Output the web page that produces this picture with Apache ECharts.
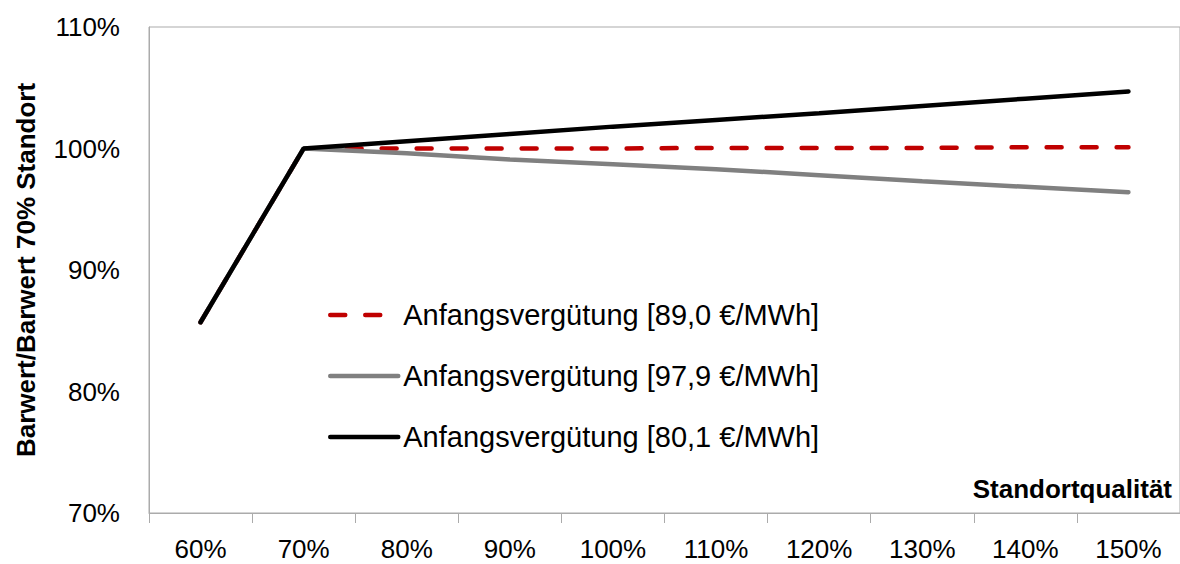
<!DOCTYPE html>
<html>
<head>
<meta charset="utf-8">
<script src="https://cdn.jsdelivr.net/npm/echarts@6/dist/echarts.min.js"></script>
<style>
html,body{margin:0;padding:0;overflow:hidden;background:#fff;}
#chart{width:1180px;height:564px;}
</style>
</head>
<body>
<div id="chart"></div>
<script>
const categories = ['60%','70%','80%','90%','100%','110%','120%','130%','140%','150%'];
const seriesNames = ['Anfangsvergütung [89,0 €/MWh]','Anfangsvergütung [97,9 €/MWh]','Anfangsvergütung [80,1 €/MWh]'];
const red89 = [85.7, 100, 100, 100, 100, 100.05, 100.05, 100.05, 100.1, 100.1];
const gray979 = [85.7, 100, 99.6, 99.1, 98.7, 98.3, 97.8, 97.3, 96.85, 96.4];
const black801 = [85.7, 100, 100.6, 101.2, 101.8, 102.35, 102.9, 103.5, 104.1, 104.7];
const yTicks = {min: 70, max: 110, interval: 10};
const xTitle = 'Standortqualität';
const yTitle = 'Barwert/Barwert 70% Standort';

const FONT = 'Liberation Sans';
const AXIS_GRAY = '#ABABAB';

const chart = echarts.init(document.getElementById('chart'), null, {renderer: 'svg'});
chart.setOption({
  animation: false,
  backgroundColor: '#fff',
  grid: {
    left: 149, top: 27, width: 1036, height: 486,
    show: true, borderColor: AXIS_GRAY, borderWidth: 1, backgroundColor: 'transparent'
  },
  legend: {
    orient: 'vertical',
    left: 323, top: 295,
    itemWidth: 68, itemHeight: 8, itemGap: 31,
    itemStyle: {opacity: 0},
    lineStyle: {width: 4.5},
    textStyle: {fontFamily: FONT, fontSize: 29, color: '#000', lineHeight: 30},
    data: seriesNames
  },
  xAxis: {
    type: 'category',
    data: categories,
    boundaryGap: true,
    axisLine: {lineStyle: {color: AXIS_GRAY, width: 1}},
    axisTick: {show: true, length: 10, lineStyle: {color: AXIS_GRAY}},
    axisLabel: {fontFamily: FONT, fontSize: 26, color: '#000', margin: 23, lineHeight: 26},
    splitLine: {show: false}
  },
  yAxis: {
    type: 'value',
    min: yTicks.min, max: yTicks.max, interval: yTicks.interval,
    axisLine: {show: true, lineStyle: {color: AXIS_GRAY, width: 1}},
    axisTick: {show: false},
    axisLabel: {fontFamily: FONT, fontSize: 26, color: '#000', margin: 29, formatter: '{value}%'},
    splitLine: {show: false},
    name: yTitle,
    nameLocation: 'middle',
    nameGap: 110,
    nameTextStyle: {fontFamily: FONT, fontSize: 26, fontWeight: 'bold', color: '#000'}
  },
  graphic: [{
    type: 'text',
    right: 8, top: 476,
    style: {text: xTitle, font: 'bold 26px "Liberation Sans"', fill: '#000'}
  }],
  series: [
    {
      name: seriesNames[0], type: 'line', data: red89, symbol: 'none',
      lineStyle: {color: '#C00000', width: 4.5, type: [15, 20], cap: 'round'},
      itemStyle: {color: '#C00000'}
    },
    {
      name: seriesNames[1], type: 'line', data: gray979, symbol: 'none',
      lineStyle: {color: '#808080', width: 4.5, cap: 'round'},
      itemStyle: {color: '#808080'}
    },
    {
      name: seriesNames[2], type: 'line', data: black801, symbol: 'none',
      lineStyle: {color: '#000000', width: 4.5, cap: 'round'},
      itemStyle: {color: '#000000'}
    }
  ]
});
</script>
</body>
</html>
